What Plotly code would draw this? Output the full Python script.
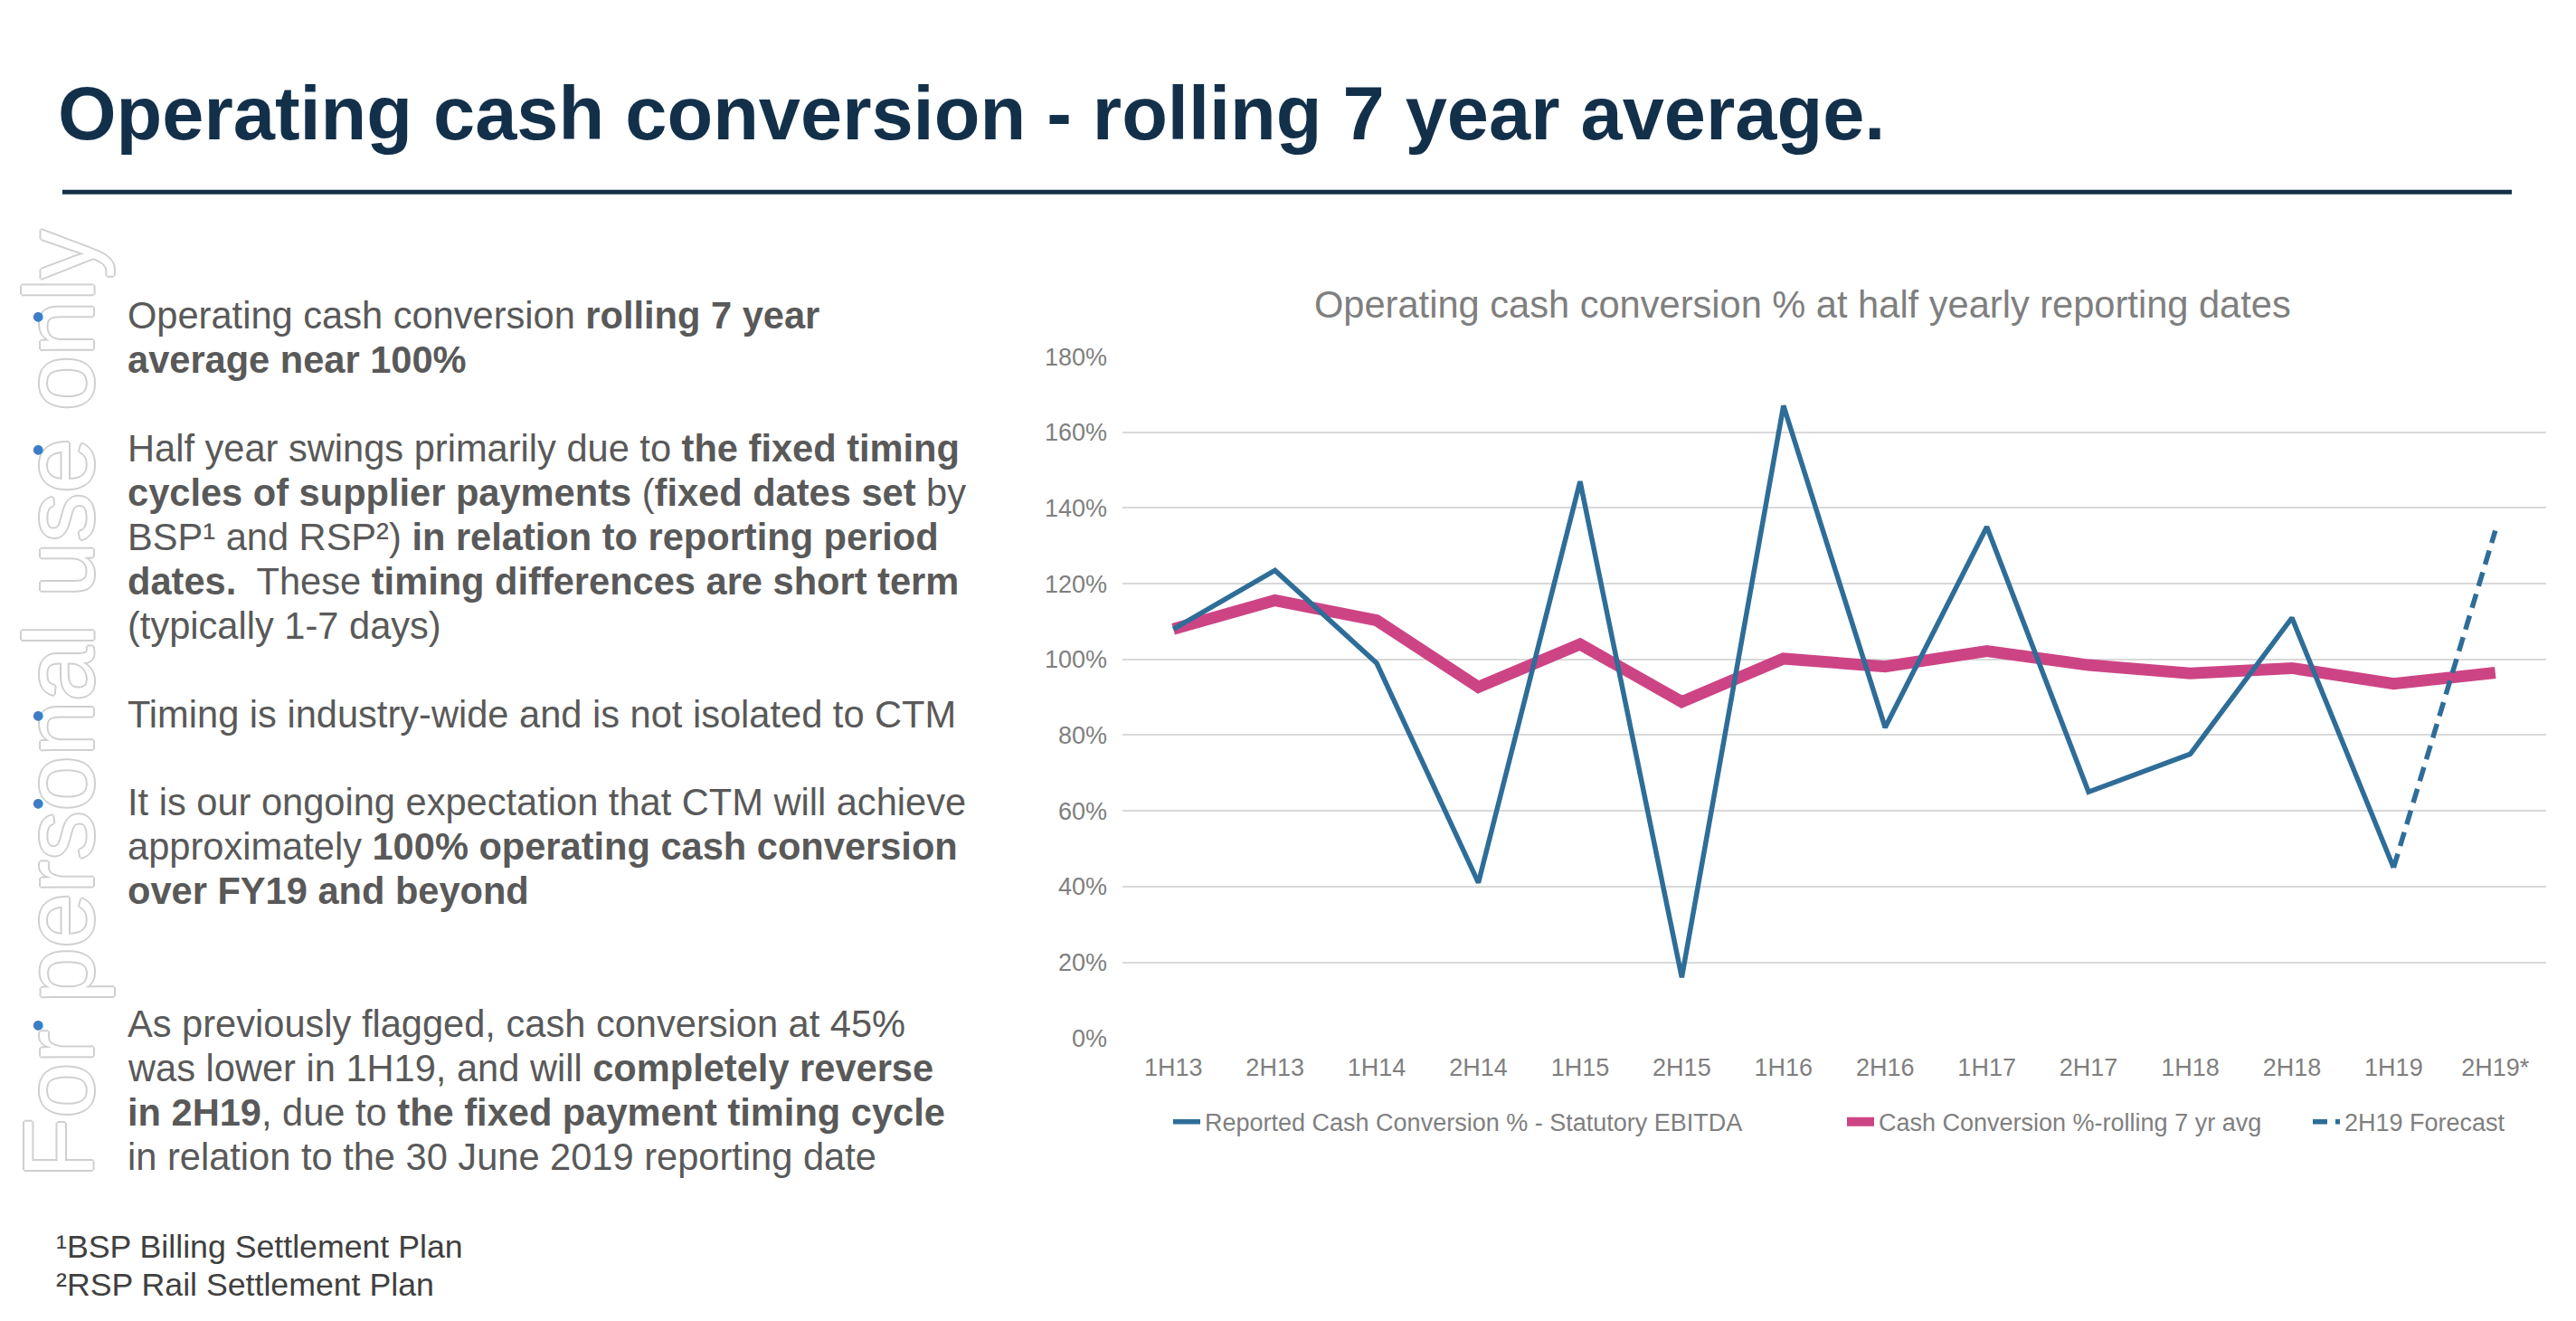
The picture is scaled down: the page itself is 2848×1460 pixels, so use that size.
import plotly.graph_objects as go

W, H = 2848, 1460

# ---------------- data ----------------
categories = ["1H13", "2H13", "1H14", "2H14", "1H15", "2H15", "1H16",
              "2H16", "1H17", "2H17", "1H18", "2H18", "1H19", "2H19*"]
reported_pct = [108, 123.5, 99, 41, 147, 16, 167, 82, 135, 65, 75, 111, 45, None]
rolling_pct = [108, 115.6, 110.3, 92.7, 104, 88.8, 100.2, 98.1, 102.2, 98.5,
               96.3, 97.7, 93.6, 96.5]
forecast_categories = ["1H19", "2H19*"]
forecast_pct = [45, 134]
y_tick_values = [0, 20, 40, 60, 80, 100, 120, 140, 160, 180]
y_tick_labels = ["0%", "20%", "40%", "60%", "80%", "100%", "120%", "140%", "160%", "180%"]

series_names = ["Reported Cash Conversion % - Statutory EBITDA",
                "Cash Conversion %-rolling 7 yr avg",
                "2H19 Forecast"]

page_title = "Operating cash conversion - rolling 7 year average."
chart_title = "Operating cash conversion % at half yearly reporting dates"
watermark = "For personal use only"

body_lines = [
    "Operating cash conversion <b>rolling 7 year</b>",
    "<b>average near 100%</b>",
    "Half year swings primarily due to <b>the fixed timing</b>",
    "<b>cycles of supplier payments</b> (<b>fixed dates set</b> by",
    "BSP¹ and RSP²) <b>in relation to reporting period</b>",
    "<b>dates.</b>&nbsp; These <b>timing differences are short term</b>",
    "(typically 1-7 days)",
    "Timing is industry-wide and is not isolated to CTM",
    "It is our ongoing expectation that CTM will achieve",
    "approximately <b>100% operating cash conversion</b>",
    "<b>over FY19 and beyond</b>",
    "As previously flagged, cash conversion at 45%",
    "was lower in 1H19, and will <b>completely reverse</b>",
    "<b>in 2H19</b>, due to <b>the fixed payment timing cycle</b>",
    "in relation to the 30 June 2019 reporting date",
]
footnotes = ["¹BSP Billing Settlement Plan", "²RSP Rail Settlement Plan"]

# ---------------- layout positions (pixels) ----------------
body_line_y = [341, 391, 491, 541, 591, 641, 691, 791, 890, 940, 990,
               1140, 1190, 1240, 1290]
bullet_y = [341, 491, 791, 890, 1140]
footnote_y = [1392, 1434]

FONT = "Liberation Sans, Arial, sans-serif"
BLUE = "#2e6d98"
PINK = "#cd4485"
NAVY = "#13304a"
GRAY_TEXT = "#595959"
CHART_GRAY = "#7f7f7f"


def px(x):
    return x / W


def py(y):
    return 1 - y / H


fig = go.Figure()

fig.add_trace(go.Scatter(
    x=categories, y=rolling_pct, mode="lines", name=series_names[1],
    line=dict(color=PINK, width=13), legend="legend2", hoverinfo="skip"))
fig.add_trace(go.Scatter(
    x=categories, y=reported_pct, mode="lines", name=series_names[0],
    line=dict(color=BLUE, width=5.5), legend="legend", hoverinfo="skip",
    connectgaps=False))
fig.add_trace(go.Scatter(
    x=forecast_categories, y=forecast_pct, mode="lines", name=series_names[2],
    line=dict(color=BLUE, width=5.5, dash="16px,9px"), legend="legend3",
    hoverinfo="skip"))

annotations = []

# watermark (outlined light gray, rotated)
outline = "#cfcfcf"
shadow = ", ".join(f"{dx}px {dy}px 0 {outline}" for dx, dy in
                   [(2, 0), (-2, 0), (0, 2), (0, -2), (1, 1), (-1, -1), (1, -1), (-1, 1)])
annotations.append(dict(
    text=watermark, x=px(2), y=py(779), xref="paper", yref="paper",
    xanchor="left", yanchor="middle", textangle=-90, showarrow=False,
    font=dict(family=FONT, size=109, color="white", shadow=shadow)))

# page title
annotations.append(dict(
    text=f"<b>{page_title}</b>", x=px(62), y=py(113), xref="paper", yref="paper",
    xanchor="left", yanchor="middle", showarrow=False,
    font=dict(family=FONT, size=83, color=NAVY)))

# body text
for t, yy in zip(body_lines, body_line_y):
    annotations.append(dict(
        text=t, x=px(139), y=py(yy), xref="paper", yref="paper",
        xanchor="left", yanchor="middle", showarrow=False,
        font=dict(family=FONT, size=41.6, color=GRAY_TEXT)))

# bullets
for yy in bullet_y:
    annotations.append(dict(
        text="●", x=px(42), y=py(yy), xref="paper", yref="paper",
        xanchor="center", yanchor="middle", showarrow=False,
        font=dict(family="DejaVu Sans", size=14, color="#3c7dc8")))

# footnotes
for t, yy in zip(footnotes, footnote_y):
    annotations.append(dict(
        text=t, x=px(60), y=py(yy), xref="paper", yref="paper",
        xanchor="left", yanchor="middle", showarrow=False,
        font=dict(family=FONT, size=35.7, color="#404040")))

# chart title
annotations.append(dict(
    text=chart_title, x=px(1993), y=py(328), xref="paper", yref="paper",
    xanchor="center", yanchor="middle", showarrow=False,
    font=dict(family=FONT, size=41.6, color=CHART_GRAY)))

legend_common = dict(orientation="h", yanchor="middle", y=py(1251),
                     xanchor="left", bgcolor="rgba(0,0,0,0)",
                     font=dict(family=FONT, size=27, color=CHART_GRAY),
                     itemwidth=30)

fig.update_layout(
    width=W, height=H, autosize=False,
    margin=dict(l=0, r=0, t=0, b=0),
    paper_bgcolor="white", plot_bgcolor="white",
    font=dict(family=FONT),
    showlegend=True,
    legend=dict(x=px(1337 - 45), **legend_common),
    legend2=dict(x=px(2082 - 45), **legend_common),
    legend3=dict(x=px(2597 - 45), **legend_common),
    annotations=annotations,
    shapes=[dict(type="line", xref="paper", yref="paper",
                 x0=px(69), x1=px(2777), y0=py(201.5), y1=py(201.5),
                 line=dict(color=NAVY, width=5))],
    xaxis=dict(domain=[px(1241), px(2815)], type="category",
               categoryorder="array", categoryarray=categories,
               range=[-0.5, len(categories) - 0.5],
               showgrid=False, showline=False, zeroline=False, ticks="",
               tickfont=dict(family=FONT, size=27, color=CHART_GRAY),
               ticklabelstandoff=14, fixedrange=True),
    yaxis=dict(domain=[py(1156), py(387)], range=[0, 180],
               tickmode="array", tickvals=y_tick_values, ticktext=y_tick_labels,
               showgrid=True, gridcolor="#d9d9d9", gridwidth=2,
               showline=False, zeroline=False, ticks="",
               tickfont=dict(family=FONT, size=27, color=CHART_GRAY),
               ticklabelstandoff=16, fixedrange=True),
)

fig.write_html("out.html", config={"displayModeBar": False},
               post_script="document.body.style.margin='0';document.body.style.overflow='hidden';")
